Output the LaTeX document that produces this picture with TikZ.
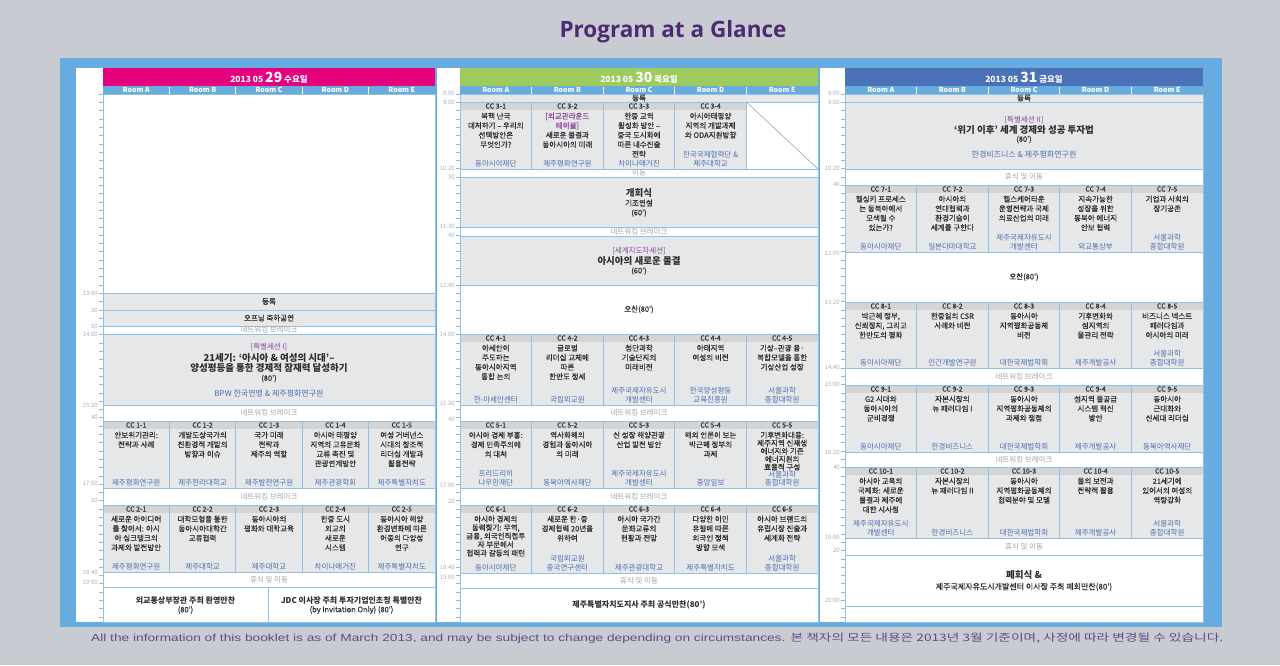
\documentclass[tikz,border=0pt]{standalone}
\usepackage{fontspec}
\usepackage{graphicx}
\setmainfont{Noto Sans CJK KR}
\newfontfamily\krbody[FakeBold=0.4]{Noto Sans CJK KR}
\newfontfamily\titlefont{Open Sans}
\newfontfamily\notefont{Liberation Sans}
\usetikzlibrary{calc}

\definecolor{pagegray}{HTML}{C8CCD2}
\definecolor{frameblue}{HTML}{68ACDF}
\definecolor{rowline}{HTML}{93C1E6}
\definecolor{slotgray}{HTML}{E6E7E8}
\definecolor{hdgray}{HTML}{D2D4D6}
\definecolor{ink}{HTML}{2E2E2E}
\definecolor{orgblue}{HTML}{4C6FB3}
\definecolor{brkgray}{HTML}{A3A3A3}
\definecolor{tickgray}{HTML}{9DB2C8}
\definecolor{sesspurple}{HTML}{8A4A9C}
\definecolor{titlepurple}{HTML}{4E2A72}
\definecolor{notepurple}{HTML}{5F4B85}
\definecolor{daypink}{HTML}{E5007E}
\definecolor{daygreen}{HTML}{9DCB5E}
\definecolor{dayblue}{HTML}{4B72B8}

\tikzset{
  slot/.style={draw=rowline, fill=slotgray, line width=1pt},
  free/.style={draw=rowline, fill=white, line width=1pt},
  cclab/.style={font=\krbody\fontsize{7}{8}\selectfont, text=ink, inner sep=0pt},
  ttl/.style={font=\krbody\fontsize{7.5}{9.5}\selectfont, align=center, text=ink, inner sep=0pt, anchor=north},
  org/.style={font=\fontsize{7.5}{9}\selectfont, align=center, text=orgblue, inner sep=0pt, anchor=south},
  brk/.style={font=\fontsize{7.5}{8}\selectfont, text=brkgray, inner sep=0pt},
  reg/.style={font=\krbody\fontsize{7.5}{8}\selectfont, text=ink, inner sep=0pt},
  bigt/.style={font=\fontsize{9.5}{10}\selectfont\bfseries, text=ink, inner sep=0pt},
  dinr/.style={font=\fontsize{8}{9}\selectfont\bfseries, text=ink, inner sep=0pt},
  host/.style={font=\fontsize{8}{9}\selectfont, text=orgblue, inner sep=0pt},
  sest/.style={font=\fontsize{7.5}{8}\selectfont, text=sesspurple, inner sep=0pt},
  tlab/.style={font=\fontsize{6}{6}\selectfont, text=tickgray, anchor=east, inner sep=0pt},
  roomt/.style={font=\fontsize{7}{7}\selectfont\bfseries, text=white, inner sep=0pt},
  dayt/.style={font=\fontsize{8.5}{9}\selectfont\bfseries, text=white, inner sep=0pt},
}

% one parallel session: name, column, top, bottom, label, title, host
\newcommand{\ccbox}[7]{%
  \draw[slot] ({\xl+#2*\cw},#3) rectangle ++(\cw,#4-#3);
  \fill[hdgray] ({\xl+#2*\cw},#3) rectangle ++(\cw,8);
  \draw[rowline, line width=1pt] ({\xl+#2*\cw},#3) rectangle ++(\cw,#4-#3);
  \node[cclab] (#1hd) at ({\xl+(#2+0.5)*\cw},#3+4) {#5};
  \node[ttl] (#1tt) at ({\xl+(#2+0.5)*\cw},#3+10.5) {#6};
  \node[org] (#1or) at ({\xl+(#2+0.5)*\cw},#4-1.5) {#7};
}
% a row over all rooms: name, box style, text style, top, bottom, text
\newcommand{\fullrow}[6]{%
  \draw[#2] (\xl,#4) rectangle (\xr,#5);
  \node[#3] (#1) at ({(\xl+\xr)/2},{(#4+#5)/2}) {#6};
}
% time scale: name, x, labels
\newcommand{\taxis}[3]{%
  \draw[tickgray, line width=0.6pt] (#2,94) -- (#2,622);
  \foreach \i in {0,...,63} \draw[tickgray, line width=0.6pt] (#2-4.5,94+\i*8.3) -- (#2,94+\i*8.3);
  \foreach \lab/\y in {#3} \node[tlab] (#1\y) at (#2-5,\y) {\lab};
}
% day header with rooms: name, x, colour, day, weekday
\newcommand{\dayhead}[5]{%
  \fill[#3] (#2,68) rectangle ++(5*\cw,18);
  \node[dayt] (#1) at ({#2+2.5*\cw},77.5) {2013 05 {\fontsize{14}{14}\selectfont #4} #5};
  \fill[frameblue] (#2,86) rectangle ++(5*\cw,8);
  \foreach \rn [count=\ci from 0] in {A,B,C,D,E}
    \node[roomt] (#1\rn) at ({#2+(\ci+0.5)*\cw},90) {Room \rn};
  \foreach \ci in {1,...,4}
    \draw[white, line width=0.8pt] ({#2+\ci*\cw},86.5) -- ++(0,7);
}

\begin{document}
\begin{tikzpicture}[x=1pt,y=-1pt]
%%%%% START %%%%%
\fill[pagegray] (0,0) rectangle (1280,665);
\useasboundingbox (0,0) rectangle (1280,665);
\node[font=\titlefont\bfseries\fontsize{22.5}{24}\selectfont, text=titlepurple] (title) at (673,32) {Program at a Glance};

\fill[frameblue] (60,58) rectangle (1222,627);
\fill[white] (76,68) rectangle (435,622);
\fill[white] (437,68) rectangle (818,622);
\fill[white] (820,68) rectangle (1203,622);

%%%%% 29 %%%%%
\def\cw{66.4}\def\xl{103}\def\xr{435}
\dayhead{dA}{103}{daypink}{29}{수요일}
\taxis{tA}{103}{13:00/293,30/310,50/326,14:00/334,15:20/405,40/417,17:00/483,20/500,18:40/572,19:00/582}
\draw[free] (\xl,94) rectangle (\xr,293);
\fullrow{regA}{slot}{reg}{293}{310}{등록}
\fullrow{openA}{slot}{reg}{310}{326}{오프닝 축하공연}
\fullrow{brkA1}{free}{brk}{326}{334}{네트워킹 브레이크}
\draw[slot] (\xl,334) rectangle (\xr,405);
\node[sest] (spA1) at (269,347) {[특별세션 I]};
\node[bigt] (spA2) at (269,357.5) {21세기: ‘아시아 \& 여성의 시대’–};
\node[bigt] (spA3) at (269,368) {양성평등을 통한 경제적 잠재력 달성하기};
\node[reg] (spA4) at (269,378.5) {(80')};
\node[host] (spA5) at (269,393) {BPW 한국연맹 \& 제주평화연구원};
\fullrow{brkA2}{free}{brk}{405}{421}{네트워킹 브레이크}
\ccbox{cc1-1}{0}{421}{488}{CC 1-1}{안보위기관리:\\전략과 사례}{제주평화연구원}
\ccbox{cc1-2}{1}{421}{488}{CC 1-2}{개발도상국가의\\친환경적 개발의\\방향과 이슈}{제주한라대학교}
\ccbox{cc1-3}{2}{421}{488}{CC 1-3}{국가 미래\\전략과\\제주의 역할}{제주발전연구원}
\ccbox{cc1-4}{3}{421}{488}{CC 1-4}{아시아 태평양\\지역의 고유문화\\교류 촉진 및\\관광연계방안}{제주관광학회}
\ccbox{cc1-5}{4}{421}{488}{CC 1-5}{여성 거버넌스\\시대의 창조적\\리더십 개발과\\활용전략}{제주특별자치도}
\fullrow{brkA3}{free}{brk}{488}{505}{네트워킹 브레이크}
\ccbox{cc2-1}{0}{505}{572}{CC 2-1}{새로운 아이디어\\를 찾아서: 아시\\아 싱크탱크의\\과제와 발전방안}{제주평화연구원}
\ccbox{cc2-2}{1}{505}{572}{CC 2-2}{대학모형을 통한\\동아시아대학간\\교류협력}{제주대학교}
\ccbox{cc2-3}{2}{505}{572}{CC 2-3}{동아시아의\\평화와 대학교육}{제주대학교}
\ccbox{cc2-4}{3}{505}{572}{CC 2-4}{한중 도시\\외교의\\새로운\\시스템}{차이나매거진}
\ccbox{cc2-5}{4}{505}{572}{CC 2-5}{동아시아 해양\\환경변화에 따른\\어종의 다양성\\연구}{제주특별자치도}
\fullrow{brkA4}{free}{brk}{572}{587}{휴식 및 이동}
\draw[free] (\xl,587) rectangle (268,622);
\draw[free] (268,587) rectangle (\xr,622);
\node[dinr] (dnA1) at (185.5,600) {외교통상부장관 주최 환영만찬};
\node[reg] (dnA2) at (185.5,610) {(80')};
\node[dinr] (dnA3) at (351.5,600) {JDC 이사장 주최 투자기업인초청 특별만찬};
\node[reg] (dnA4) at (351.5,610) {(by Invitation Only) (80')};

%%%%% 30 %%%%%
\def\cw{71.6}\def\xl{460}\def\xr{818}
\dayhead{dB}{460}{daygreen}{30}{목요일}
\taxis{tB}{460}{8:00/93,9:00/102,10:20/168,30/177,11:30/226,40/235,12:40/285,14:00/334,15:20/403,40/419,17:00/485,20/501,18:40/567,19:00/577}
\fullrow{regB}{slot}{reg}{94}{102}{등록}
\ccbox{cc3-1}{0}{102}{169}{CC 3-1}{북핵 난국\\대처하기 – 우리의\\선택방안은\\무엇인가?}{동아시아재단}
\ccbox{cc3-2}{1}{102}{169}{CC 3-2}{{\color{sesspurple}[외교관라운드}\\{\color{sesspurple}테이블]}\\새로운 물결과\\동아시아의 미래}{제주평화연구원}
\ccbox{cc3-3}{2}{102}{169}{CC 3-3}{한중 교역\\활성화 방안 –\\중국 도시화에\\따른 내수진출\\전략}{차이나매거진}
\ccbox{cc3-4}{3}{102}{169}{CC 3-4}{아시아태평양\\지역의 개발과제\\와 ODA지원방향}{한국국제협력단 \&\\제주대학교}
\draw[free] (746.4,102) rectangle (\xr,169);
\draw[brkgray, line width=0.6pt] (746.4,102) -- (\xr,169);
\fullrow{brkB1}{free}{brk}{169}{177}{이동}
\draw[slot] (\xl,177) rectangle (\xr,227);
\node[bigt] (opB1) at (639,193) {개회식};
\node[reg] (opB2) at (639,203) {기조연설};
\node[reg] (opB3) at (639,213) {(60')};
\fullrow{brkB2}{free}{brk}{227}{236}{네트워킹 브레이크}
\draw[slot] (\xl,236) rectangle (\xr,285);
\node[sest] (wlB1) at (639,251) {[세계지도자세션]};
\node[bigt] (wlB2) at (639,261) {아시아의 새로운 물결};
\node[reg] (wlB3) at (639,271) {(60')};
\fullrow{lunB}{free}{reg}{285}{334}{오찬(80')}
\ccbox{cc4-1}{0}{334}{405}{CC 4-1}{아세안이\\주도하는\\동아시아지역\\통합 논의}{한-아세안센터}
\ccbox{cc4-2}{1}{334}{405}{CC 4-2}{글로벌\\리더십 교체에\\따른\\한반도 정세}{국립외교원}
\ccbox{cc4-3}{2}{334}{405}{CC 4-3}{첨단과학\\기술단지의\\미래비전}{제주국제자유도시\\개발센터}
\ccbox{cc4-4}{3}{334}{405}{CC 4-4}{아태지역\\여성의 비전}{한국양성평등\\교육진흥원}
\ccbox{cc4-5}{4}{334}{405}{CC 4-5}{기상–관광 융·\\복합모델을 통한\\기상산업 성장}{서울과학\\종합대학원}
\fullrow{brkB3}{free}{brk}{405}{421}{네트워킹 브레이크}
\ccbox{cc5-1}{0}{421}{488}{CC 5-1}{아시아 경제 부흥:\\경제 민족주의에\\의 대처}{프리드리히\\나우만재단}
\ccbox{cc5-2}{1}{421}{488}{CC 5-2}{역사화해의\\경험과 동아시아\\의 미래}{동북아역사재단}
\ccbox{cc5-3}{2}{421}{488}{CC 5-3}{신 성장 해양관광\\산업 발전 방안}{제주국제자유도시\\개발센터}
\ccbox{cc5-4}{3}{421}{488}{CC 5-4}{해외 언론이 보는\\박근혜 정부의\\과제}{중앙일보}
\ccbox{cc5-5}{4}{421}{488}{CC 5-5}{기후변화대응:\\[-1.5pt]제주지역 신재생\\[-1.5pt]에너지와 기존\\[-1.5pt]에너지원의\\[-1.5pt]효율적 구성}{서울과학\\[-1pt]종합대학원}
\fullrow{brkB4}{free}{brk}{488}{505}{네트워킹 브레이크}
\ccbox{cc6-1}{0}{505}{573}{CC 6-1}{아시아 경제의\\[-1pt]동력찾기: 무역,\\[-1pt]금융, 외국인직접투\\[-1pt]자 부문에서\\[-1pt]협력과 갈등의 패턴}{동아시아재단}
\ccbox{cc6-2}{1}{505}{573}{CC 6-2}{새로운 한·중\\경제협력 20년을\\위하여}{국립외교원\\중국연구센터}
\ccbox{cc6-3}{2}{505}{573}{CC 6-3}{아시아 국가간\\문화교류의\\현황과 전망}{제주관광대학교}
\ccbox{cc6-4}{3}{505}{573}{CC 6-4}{다양한 이민\\유형에 따른\\외국인 정책\\방향 모색}{제주특별자치도}
\ccbox{cc6-5}{4}{505}{573}{CC 6-5}{아시아 브랜드의\\유럽시장 진출과\\세계화 전략}{서울과학\\종합대학원}
\fullrow{brkB5}{free}{brk}{573}{588}{휴식 및 이동}
\fullrow{dinB}{free}{dinr}{588}{622}{제주특별자치도지사 주최 공식만찬(80')}

%%%%% 31 %%%%%
\def\cw{71.6}\def\xl{845}\def\xr{1203}
\dayhead{dC}{845}{dayblue}{31}{금요일}
\taxis{tC}{845}{8:00/93,9:00/102,10:20/168,40/184,12:00/253,13:20/302,14:40/367,15:00/384,16:20/452,40/467,18:00/537,20/550,20:00/600}
\fullrow{regC}{slot}{reg}{94}{102}{등록}
\draw[slot] (\xl,102) rectangle (\xr,169);
\node[sest] (spC1) at (1024,120) {[특별세션 II]};
\node[bigt] (spC2) at (1024,129.5) {‘위기 이후’ 세계 경제와 성공 투자법};
\node[reg] (spC3) at (1024,139.5) {(80')};
\node[host] (spC4) at (1024,155) {한경비즈니스 \& 제주평화연구원};
\fullrow{brkC1}{free}{brk}{169}{185}{휴식 및 이동}
\ccbox{cc7-1}{0}{185}{252}{CC 7-1}{헬싱키 프로세스\\는 동북아에서\\모색될 수\\있는가?}{동아시아재단}
\ccbox{cc7-2}{1}{185}{252}{CC 7-2}{아시아의\\연대협력과\\환경기술이\\세계를 구한다}{일본다마대학교}
\ccbox{cc7-3}{2}{185}{252}{CC 7-3}{헬스케어타운\\운영전략과 국제\\의료산업의 미래}{제주국제자유도시\\개발센터}
\ccbox{cc7-4}{3}{185}{252}{CC 7-4}{지속가능한\\성장을 위한\\동북아 에너지\\안보 협력}{외교통상부}
\ccbox{cc7-5}{4}{185}{252}{CC 7-5}{기업과 사회의\\장기공존}{서울과학\\종합대학원}
\fullrow{lunC}{free}{reg}{252}{302}{오찬(80')}
\ccbox{cc8-1}{0}{302}{368}{CC 8-1}{박근혜 정부,\\신뢰정치, 그리고\\한반도의 평화}{동아시아재단}
\ccbox{cc8-2}{1}{302}{368}{CC 8-2}{한중일의 CSR\\사례와 비전}{인간개발연구원}
\ccbox{cc8-3}{2}{302}{368}{CC 8-3}{동아시아\\지역평화공동체\\비전}{대한국제법학회}
\ccbox{cc8-4}{3}{302}{368}{CC 8-4}{기후변화와\\섬지역의\\물관리 전략}{제주개발공사}
\ccbox{cc8-5}{4}{302}{368}{CC 8-5}{비즈니스 넥스트\\패러다임과\\아시아의 미래}{서울과학\\종합대학원}
\fullrow{brkC2}{free}{brk}{368}{385}{네트워킹 브레이크}
\ccbox{cc9-1}{0}{385}{452}{CC 9-1}{G2 시대와\\동아시아의\\군비경쟁}{동아시아재단}
\ccbox{cc9-2}{1}{385}{452}{CC 9-2}{자본시장의\\뉴 패러다임 I}{한경비즈니스}
\ccbox{cc9-3}{2}{385}{452}{CC 9-3}{동아시아\\지역평화공동체의\\과제와 쟁점}{대한국제법학회}
\ccbox{cc9-4}{3}{385}{452}{CC 9-4}{섬지역 물공급\\시스템 혁신\\방안}{제주개발공사}
\ccbox{cc9-5}{4}{385}{452}{CC 9-5}{동아시아\\근대화와\\신세대 리더십}{동북아역사재단}
\fullrow{brkC3}{free}{brk}{452}{467}{네트워킹 브레이크}
\ccbox{cc10-1}{0}{467}{538}{CC 10-1}{아시아 교육의\\국제화: 새로운\\물결과 제주에\\대한 시사점}{제주국제자유도시\\개발센터}
\ccbox{cc10-2}{1}{467}{538}{CC 10-2}{자본시장의\\뉴 패러다임 II}{한경비즈니스}
\ccbox{cc10-3}{2}{467}{538}{CC 10-3}{동아시아\\지역평화공동체의\\협력분야 및 모델}{대한국제법학회}
\ccbox{cc10-4}{3}{467}{538}{CC 10-4}{물의 보전과\\전략적 활용}{제주개발공사}
\ccbox{cc10-5}{4}{467}{538}{CC 10-5}{21세기에\\있어서의 여성의\\역량강화}{서울과학\\종합대학원}
\fullrow{brkC4}{free}{brk}{538}{555}{휴식 및 이동}
\draw[free] (\xl,555) rectangle (\xr,606);
\node[bigt] (clC1) at (1024,575) {폐회식 \&};
\node[reg, font=\krbody\fontsize{8}{9}\selectfont] (clC2) at (1024,587) {제주국제자유도시개발센터 이사장 주최 폐회만찬(80')};
\draw[free] (\xl,606) rectangle (\xr,622);

%%%%% NOTE %%%%%
\node[anchor=west, text=notepurple, inner sep=0pt] (note) at (91,638) {\resizebox{1132pt}{8.5pt}{\notefont All the information of this booklet is as of March 2013, and may be subject to change depending on circumstances. \rmfamily 본 책자의 모든 내용은 2013년 3월 기준이며, 사정에 따라 변경될 수 있습니다.}};
%%%%% END %%%%%
\end{tikzpicture}
\end{document}
